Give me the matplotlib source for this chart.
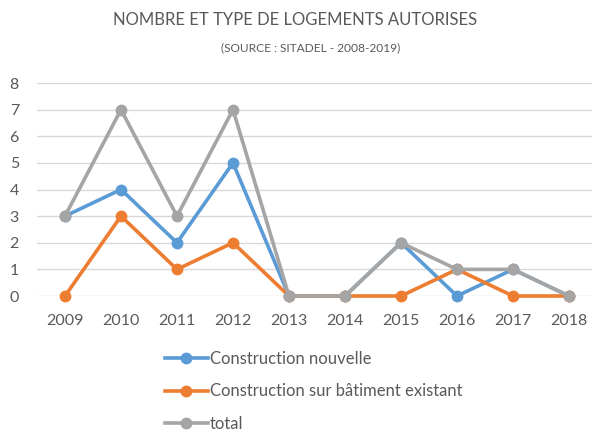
import matplotlib
matplotlib.use("Agg")
import matplotlib.pyplot as plt
import numpy as np

annees = ["2009", "2010", "2011", "2012", "2013", "2014", "2015", "2016", "2017", "2018"]
nouvelle = [3, 4, 2, 5, 0, 0, 2, 0, 1, 0]
existant = [0, 3, 1, 2, 0, 0, 0, 1, 0, 0]
total = [3, 7, 3, 7, 0, 0, 2, 1, 1, 0]

plt.rcParams['font.family'] = ['Lato', 'DejaVu Sans']
texte = '#595959'

fig = plt.figure(figsize=(5.92, 4.33), dpi=100)
ax = fig.add_axes([37 / 592, 1 - 296 / 433, 560 / 592, 213 / 433])

x = np.arange(len(annees))
series = [(nouvelle, '#5B9BD5', 'Construction nouvelle'),
          (existant, '#ED7D31', 'Construction sur bâtiment existant'),
          (total, '#A5A5A5', 'total')]
lignes = []
for vals, col, lab in series:
    l, = ax.plot(x, vals, color=col, lw=2.6, marker='o', ms=7.5, label=lab,
                 solid_joinstyle='round', clip_on=False, zorder=3)
    lignes.append(l)

ax.set_xlim(-0.5, len(annees) - 0.5)
ax.set_ylim(0, 8)
ax.set_yticks(range(0, 9))
ax.set_xticks(x)
ax.set_xticklabels(annees)
ax.grid(axis='y', color='#D9D9D9', lw=1)
ax.set_axisbelow(True)
for s in ax.spines.values():
    s.set_visible(False)
ax.tick_params(length=0, labelsize=11.5, colors=texte)
ax.tick_params(axis='x', pad=13)
ax.tick_params(axis='y', pad=13)

fig.text(295 / 592, 1 - 20 / 433, 'NOMBRE ET TYPE DE LOGEMENTS AUTORISES',
         ha='center', va='center', fontsize=12, color=texte)
fig.text(311 / 592, 1 - 48 / 433, '(SOURCE : SITADEL - 2008-2019)',
         ha='center', va='center', fontsize=8.6, color=texte)

fig.legend(handles=lignes, loc='upper left', bbox_to_anchor=(158 / 592, 1 - 344 / 433),
           frameon=False, fontsize=12, labelcolor=texte, handlelength=2.6,
           handletextpad=0.1, labelspacing=1.0, borderaxespad=0)

fig.savefig('out.png', dpi=100)
